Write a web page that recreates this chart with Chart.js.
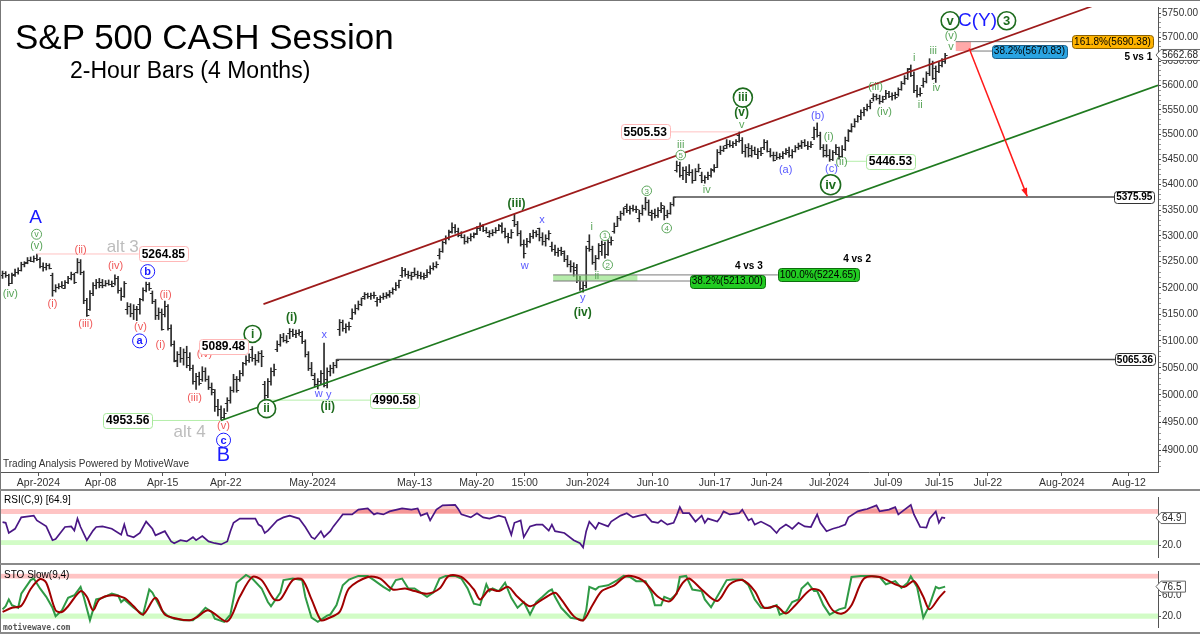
<!DOCTYPE html>
<html><head><meta charset="utf-8"><title>S&amp;P 500 CASH Session</title>
<script src="https://cdn.jsdelivr.net/npm/chart.js@4.4.1/dist/chart.umd.min.js"></script>
<style>
html,body{margin:0;padding:0;background:#fff;overflow:hidden}
#wrap{position:relative;width:1200px;height:634px;overflow:hidden;background:#fff;font-family:"Liberation Sans",Arial,sans-serif}
#wrap canvas{position:absolute;left:0}
.t{position:absolute;white-space:nowrap;color:#000}
.ln{position:absolute}
</style></head><body>
<div id="wrap">
 <canvas id="cMain" width="1200" height="490" style="top:0px;width:1200px;height:490px"></canvas>
 <canvas id="cRsi" width="1200" height="74" style="top:490px;width:1200px;height:74px"></canvas>
 <canvas id="cSto" width="1200" height="70" style="top:564px;width:1200px;height:70px"></canvas>
 <div class="t" style="left:15px;top:19px;font-size:35px;line-height:35px">S&amp;P 500 CASH Session</div>
 <div class="t" style="left:70px;top:59px;font-size:23px;line-height:23px">2-Hour Bars (4 Months)</div>
 <div class="t" style="left:3px;top:459px;font-size:10px;line-height:10px;color:#333">Trading Analysis Powered by MotiveWave</div>
 <div class="t" style="left:4px;top:495px;font-size:10px;line-height:10px">RSI(C,9) [64.9]</div>
 <div class="t" style="left:4px;top:570px;font-size:10px;line-height:10px">STO Slow(9,4)</div>
 <div class="t" style="left:3px;top:624px;font-size:8px;line-height:8px;font-weight:bold;color:#555;font-family:'DejaVu Sans Mono',monospace">motivewave.com</div>
 <div class="ln" style="left:0;top:0;width:1200px;height:1px;background:#777"></div>
 <div class="ln" style="left:0;top:0;width:1px;height:634px;background:#777"></div>
 <div class="ln" style="left:0;top:489px;width:1200px;height:2px;background:#8a8a8a"></div>
 <div class="ln" style="left:0;top:563px;width:1200px;height:2px;background:#8a8a8a"></div>
 <div class="ln" style="left:0;top:632px;width:1200px;height:2px;background:#8a8a8a"></div>
</div>
<script>
// ---------------- DATA ----------------
const opens = [
5224,5228,5224,5210,5226,5230,5234,5246,5250,5254,5252,5258,5256,5242,5240,5244,
5225,5196,5202,5204,5200,5212,5218,5226,5230,5250,5230,5176,5160,5190,5205,5212,
5212,5206,5210,5208,5210,5218,5195,5185,5160,5165,5152,5160,5170,5178,5195,5208,
5190,5175,5148,5155,5150,5165,5125,5095,5065,5075,5068,5080,5070,5050,5025,5035,
5030,5045,5030,5015,5005,4980,4975,4960,4985,4990,5010,5030,5030,5040,5058,5065,
5085,5068,5065,5078,5020,5000,5025,5045,5084,5095,5108,5102,5114,5118,5112,5115,
5110,5100,5075,5050,5030,5020,5025,5040,5030,5045,5050,5055,5122,5135,5125,5128,
5142,5155,5162,5170,5185,5188,5184,5186,5175,5178,5182,5185,5188,5192,5198,5205,
5225,5235,5226,5225,5230,5226,5224,5222,5225,5230,5238,5242,5263,5270,5288,5296,
5310,5318,5310,5302,5298,5290,5295,5300,5305,5315,5320,5312,5300,5305,5308,5312,
5320,5310,5300,5298,5330,5322,5305,5285,5285,5290,5300,5308,5315,5298,5290,5296,
5280,5275,5268,5272,5270,5255,5245,5242,5240,5215,5200,5205,5290,5275,5250,5258,
5270,5285,5265,5288,5310,5320,5335,5345,5358,5350,5355,5352,5335,5345,5355,5365,
5340,5345,5340,5350,5355,5340,5345,5362,5430,5440,5420,5430,5425,5425,5410,5428,
5420,5410,5415,5420,5430,5436,5465,5470,5480,5482,5480,5484,5499,5490,5468,5475,
5460,5470,5462,5468,5475,5485,5468,5460,5460,5455,5458,5464,5466,5460,5468,5475,
5480,5485,5480,5478,5495,5512,5500,5475,5470,5460,5452,5465,5462,5458,5472,5490,
5507,5518,5528,5537,5545,5552,5558,5575,5578,5574,5568,5578,5585,5578,5580,
5582,5592,5605,5616,5635,5622,5590,5582,5600,5610,5625,5645,5635,5630,5642,5650];
const highs = [
5232,5231,5226,5228,5236,5238,5249,5250,5258,5259,5261,5264.85,5258,5248,5247,5246,
5228,5206,5208,5212,5214,5222,5230,5228,5256,5254,5232,5180,5195,5210,5216,5218,
5216,5214,5215,5213,5225,5222,5200,5212,5172,5170,5168,5165,5180,5200,5211,5210,
5194,5178,5162,5160,5175,5168,5130,5100,5080,5088,5085,5090,5078,5055,5040,5042,
5052,5050,5035,5022,5010,4992,4980,4975,4995,5015,5038,5034,5045,5060,5072,5076,
5089.48,5075,5080,5082,5025,5030,5050,5057,5100,5112,5114,5110,5123,5122,5120,5121,
5118,5102,5080,5060,5040,5030,5045,5096,5050,5055,5060,5065.36,5140,5139,5132,5135,
5160,5168,5175,5181,5191,5190,5190,5192,5182,5185,5190,5191,5195,5200,5210,5215,
5239,5237,5232,5230,5238,5232,5230,5228,5235,5242,5248,5250,5275,5290,5300,5311,
5325,5322,5315,5308,5302,5298,5304,5306,5318,5325,5322,5316,5310,5312,5316,5322,
5325,5315,5305,5312,5341.88,5328,5310,5292,5295,5305,5311,5310,5315,5306,5302,5310,
5288,5282,5276,5278,5271,5262,5252,5248,5245,5222,5212,5280,5302,5280,5262,5285,
5290,5288,5292,5298,5325,5338,5348,5355,5362,5358,5360,5358,5350,5360,5375,5370,
5350,5352,5355,5365,5358,5350,5365,5375.95,5447,5445,5435,5436,5440,5430,5432,5441,
5425,5418,5425,5432,5440,5470,5477,5477,5490,5488,5486,5490,5505.53,5494,5480,5482,
5478,5475,5472,5474,5490,5488,5472,5465,5465,5462,5466,5472,5475,5470,5478,5483,
5488,5490,5486,5486,5515,5523.64,5505,5480,5480,5470,5468,5480,5475,5478,5495,5510,
5522,5532,5539,5550,5555,5562,5570,5583,5582,5580,5578,5590,5588,5585,5586,
5595,5608,5620,5635,5642,5628,5600,5595,5615,5628,5655,5650,5640,5648,5655,5666];
const lows = [
5218,5220,5204,5208,5222,5226,5232,5240,5246,5250,5249,5252,5238,5232,5234,5236,
5184,5192,5198,5200,5199,5208,5215,5208,5228,5225,5170,5146,5157,5185,5198,5200,
5200,5203,5205,5202,5205,5190,5176,5182,5150,5145,5140,5138,5150,5175,5192,5195,
5170,5140,5140,5120,5145,5120,5090,5061,5052,5060,5055,5050,5045,5020,5010,5018,
5025,5025,5010,5000,4970,4962,4953.56,4955,4970,4985,5005,5005,5025,5035,5055,5060,
5062,5055,5060,5052,4990.58,4995,5018,5035,5080,5090,5098,5096,5104,5108,5106,5110,
5095,5070,5045,5035,5015,5011,5020,5015,5013,5035,5040,5050,5110,5118,5115,5120,
5140,5150,5158,5166,5178,5180,5178,5180,5165,5172,5178,5180,5182,5188,5195,5200,
5220,5222,5218,5215,5222,5218,5217,5216,5220,5226,5234,5238,5255,5268,5284,5292,
5305,5305,5298,5296,5284,5286,5290,5296,5302,5310,5308,5305,5297,5300,5305,5310,
5305,5296,5286,5295,5318,5300,5280,5257,5278,5286,5295,5298,5290,5282,5280,5292,
5270,5262,5260,5262,5250,5240,5230,5222,5210,5195,5191.68,5200,5270,5245,5234,5255,
5262,5257,5262,5282,5305,5318,5330,5340,5345,5342,5348,5345,5327,5340,5350,5340,
5330,5335,5336,5345,5331,5335,5342,5358,5425,5415,5410,5404,5418,5403,5408,5425,
5404,5403,5410,5415,5425,5434,5460,5466,5472,5475,5474,5478,5485,5462,5455,5455,
5455,5460,5452,5458,5470,5465,5455,5447,5450,5451,5452,5460,5455,5453,5465,5470,
5472,5476,5470,5474,5490,5495,5470,5455,5455,5446.53,5448,5460,5451,5455,5468,5486,
5505,5515,5525,5530,5538,5548,5552,5568,5570,5562,5565,5572,5575,5570,5572,
5578,5590,5602,5612,5618,5585,5576,5578,5596,5605,5620,5612,5606,5626,5638,5645];
const closes = [
5228,5224,5210,5225,5230,5234,5246,5248,5254,5252,5258,5256,5242,5240,5244,5238,
5196,5202,5204,5205,5212,5218,5226,5211,5250,5230,5176,5148,5190,5205,5212,5205,
5206,5210,5208,5204,5218,5195,5185,5209,5165,5152,5160,5160,5178,5195,5208,5199,
5175,5148,5155,5123,5165,5125,5095,5062,5075,5068,5080,5055,5050,5025,5035,5022,
5045,5030,5015,5011,4980,4975,4960,4967,4990,5010,5030,5010,5040,5058,5065,5070,
5068,5065,5078,5071,5000,5025,5045,5048,5095,5108,5102,5100,5118,5112,5115,5116,
5100,5075,5050,5036,5020,5025,5040,5018,5045,5050,5055,5064,5135,5125,5128,5128,
5155,5162,5170,5180,5188,5184,5186,5187,5178,5182,5185,5187,5192,5198,5205,5214,
5235,5226,5225,5222,5226,5224,5222,5221,5230,5238,5242,5246,5270,5288,5296,5308,
5318,5310,5302,5297,5290,5295,5300,5303,5315,5320,5312,5308,5305,5308,5312,5321,
5310,5300,5298,5307,5322,5305,5285,5267,5290,5300,5308,5304,5298,5290,5296,5306,
5275,5268,5272,5266,5255,5245,5242,5235,5215,5200,5205,5277,5275,5250,5258,5283,
5285,5265,5288,5291,5320,5335,5345,5354,5350,5355,5352,5352,5345,5355,5365,5347,
5345,5340,5350,5360,5340,5345,5362,5375,5440,5420,5430,5421,5425,5410,5428,5433,
5410,5415,5420,5431,5436,5465,5470,5473,5482,5480,5484,5487,5490,5468,5475,5473,
5470,5462,5468,5464,5485,5468,5460,5450,5455,5458,5464,5469,5460,5468,5475,5477,
5485,5480,5478,5482,5512,5500,5475,5460,5460,5452,5465,5475,5458,5472,5490,5509,
5518,5528,5537,5545,5552,5558,5567,5578,5574,5568,5572,5585,5578,5580,5576,
5592,5605,5616,5633,5622,5590,5582,5584,5610,5625,5645,5615,5630,5642,5650,5662.68];

// RSI(C,9) (bar index, value)
const rsiBar = [0,1,2,4,6,10,11,14,16,17,20,22,23,24,25,27,29,30,32,35,38,39,40,42,44,46,48,49,52,54,55,57,59,61,62,64,66,68,70,72,73,74,76,79,81,82,83,84,85,88,90,92,95,97,99,100,102,103,105,106,108,109,112,114,117,119,120,122,124,128,131,133,134,136,137,139,141,145,146,147,150,152,154,156,159,161,163,164,166,167,169,171,173,175,176,177,180,183,185,186,187,188,190,191,194,195,198,200,202,204,206,208,210,211,213,215,216,217,218,220,222,224,225,226,229,230,231,233,236,237,239,240,241,243,246,248,249,251,252,253,255,257,259,261,262,264,266,268,270,271,274,276,277,280,281,284,286,287,289,291,292,294,296,297,299,300,301,302];
const rsiVal = [58,57,40,47,66,69,61,51,28,30,50,51,44,64,50,28,44,50,51,47,37,54,36,33,40,59,47,36,43,26,23,28,26,33,28,35,26,23,21,26,43,57,64,64,64,54,51,40,44,61,66,69,64,50,33,30,43,33,43,51,64,71,71,79,81,71,73,71,76,81,79,81,69,73,61,79,86,87,80,71,66,73,66,64,69,66,37,57,61,33,51,54,54,44,54,43,40,28,23,16,43,59,47,57,51,59,69,73,66,69,71,59,57,61,54,57,69,83,73,73,59,69,57,64,59,66,76,71,73,79,61,64,54,59,51,40,47,54,51,47,57,51,50,71,57,43,47,50,54,66,76,79,80,86,76,79,83,71,79,87,71,50,49,64,76,57,66,64.9];
// STO Slow(9,4): %K (green) and %D (red)
const stoKBar = [0,1,2,3,5,6,9,10,12,14,16,17,19,21,23,25,26,28,30,32,35,37,38,39,42,45,47,48,51,53,55,58,61,63,65,67,68,71,73,75,78,80,83,85,86,89,90,93,96,97,99,101,104,105,107,109,111,114,117,119,122,124,126,128,130,132,134,136,138,140,142,145,147,149,151,153,155,156,157,159,161,163,165,167,169,171,173,175,176,177,179,182,184,186,187,188,190,191,194,197,199,201,203,206,208,209,211,212,214,216,217,219,221,224,225,227,230,232,234,237,239,241,243,246,248,249,251,253,255,256,258,260,261,263,265,268,270,272,275,278,281,283,286,288,290,291,293,295,297,299,300,302];
const stoKVal = [33,39,52,41,36,63,89,92,73,57,36,20,31,55,60,76,57,12,52,55,63,60,47,52,36,23,71,65,31,20,15,12,12,23,36,28,15,9,23,84,99,92,73,47,39,65,89,92,89,57,17,9,21,23,41,79,90,97,97,89,76,69,89,92,73,73,65,57,65,92,97,97,92,73,44,41,81,68,73,68,84,55,36,47,23,47,57,68,71,57,36,17,15,12,31,76,71,76,79,89,97,95,87,87,63,41,41,57,52,63,95,97,71,68,52,37,68,89,90,90,79,52,36,36,41,23,28,47,52,73,84,68,68,41,23,33,36,95,97,97,95,81,87,74,84,96,76,17,41,76,73,76.5];
const stoDBar = [0,3,6,9,12,14,17,19,21,25,27,29,31,35,39,42,45,49,52,56,60,62,66,72,76,80,83,87,89,93,96,99,102,104,108,111,117,121,125,129,132,136,140,143,147,151,153,156,159,162,165,169,173,177,179,183,186,189,192,196,200,205,210,214,218,220,224,229,233,237,241,244,248,251,254,259,262,266,269,272,276,281,286,289,292,295,297,300,302];
const stoDVal = [28,36,40,72,91,84,31,28,39,68,57,31,52,60,55,39,23,55,23,15,12,17,31,10,57,95,89,52,52,89,90,52,12,15,28,73,95,92,71,73,68,63,73,97,95,71,52,71,68,76,57,39,52,65,52,20,12,41,68,79,97,89,57,49,84,92,71,49,81,89,68,36,39,25,41,71,68,31,25,41,92,95,81,76,87,57,33,55,68];

// axis tick labels (bar positions) and price ticks
const xTickBars = [11.5,31.4,51.3,71.5,99.3,132,151.9,167.3,187.5,208.3,228.2,244.8,264.8,283.7,300.1,315.7,339.4,360.9];
const xTickLabels = ['Apr-2024','Apr-08','Apr-15','Apr-22','May-2024','May-13','May-20','15:00','Jun-2024','Jun-10','Jun-17','Jun-24','Jul-2024','Jul-09','Jul-15','Jul-22','Aug-2024','Aug-12'];
const yMajorTicks = [4900,4950,5000,5050,5100,5150,5200,5250,5300,5350,5400,5450,5500,5550,5600,5650,5700,5750];
const yMinorStep = 10;
const rsiTicks = [20,60];
const stoTicks = [20,60];
const lastPrice = 5662.68, lastRsi = 64.9, lastSto = 76.5;

// ---------------- ANNOTATIONS (data coordinates: bar index, price) ----------------
const hLines = [
 [5264.85, 11, 43.6, '#ffc2c2', 1],
 [4953.56, 48, 70, '#b4eeaa', 1],
 [4990.58, 84.6, 118, '#b4eeaa', 1],
 [5505.53, 213.5, 236, '#ffc2c2', 1],
 [5446.53, 270, 276.6, '#b4eeaa', 1],
 [5375.95, 215, 356.7, '#4d4d4d', 1.5],
 [5065.36, 107, 356.7, '#4d4d4d', 1.5],
 [5224.65, 176.4, 248.4, '#7a7a7a', 1],
 [5213.00, 176.4, 220.3, '#7a7a7a', 1],
 [5690.38, 305.4, 343, '#7a7a7a', 1],
 [5670.83, 310.2, 317.5, '#7a7a7a', 1]
];
const trendLines = [
 [83.6, 5169, 370.2, 5815, '#9e1b1b', 1.7],
 [70, 4953.56, 370.2, 5600, '#1f7a1f', 1.7]
];
const zones = [
 [305.4, 310.3, 5670.83, 5690.38, 'rgba(255,140,140,0.75)'],
 [176.4, 203.4, 5213.00, 5224.65, 'rgba(120,220,100,0.55)']
];
const arrow = [309.7, 5676, 328.3, 5377, '#ff1a1a'];
const styles = {
 lg:{c:'#5aa55a', f:'11px'},
 dg:{c:'#1d6b1d', f:'bold 12px'},
 lb:{c:'#5a5aff', f:'11px'},
 lr:{c:'#f05a5a', f:'11px'},
 alt:{c:'#bdbdbd', f:'17px'},
 bk:{c:'#000', f:'bold 10px'},
 A:{c:'#1a1aff', f:'19px'},
 B:{c:'#1a1aff', f:'20px'}
};
const labels = [
 ['(v)',10.9,5280,'lg'],['(iv)',2.5,5188,'lg'],['iii',217.3,5479,'lg'],['iv',225.6,5390,'lg'],['v',236.8,5520,'lg'],
 ['i',188.8,5317,'lg'],['ii',190.4,5223,'lg'],['(i)',264.7,5495,'lg'],['(ii)',268.8,5445,'lg'],['(iii)',279.7,5597,'lg'],
 ['(iv)',282.5,5545,'lg'],['i',292.1,5656,'lg'],['ii',294,5561,'lg'],['iii',298.2,5672,'lg'],['iv',299.2,5595,'lg'],
 ['v',303.9,5680,'lg'],['(v)',303.9,5703,'lg'],
 ['(i)',92.6,5143,'dg'],['(ii)',104.2,4979,'dg'],['(iii)',164.7,5363,'dg'],['(iv)',185.9,5152,'dg'],['(v)',236.8,5545,'dg'],
 ['w',101.3,5002,'lb'],['y',104.5,5000,'lb'],['x',103.1,5111,'lb'],['w',167.3,5242,'lb'],['x',172.8,5330,'lb'],
 ['y',185.9,5180,'lb'],['(a)',250.9,5429,'lb'],['(b)',261.2,5538,'lb'],['(c)',265.6,5431,'lb'],
 ['(ii)',25,5273,'lr'],['(iv)',36.2,5242,'lr'],['(i)',16,5169,'lr'],['(iii)',26.6,5132,'lr'],['(v)',44.2,5126,'lr'],
 ['(ii)',52.2,5186,'lr'],['(i)',50.6,5093,'lr'],['(iii)',61.5,4995,'lr'],['(iv)',64.7,5075,'lr'],['(v)',70.8,4943,'lr'],
 ['alt 3',38.5,5277,'alt'],['alt 4',59.9,4932,'alt'],
 ['4 vs 3',239.1,5242,'bk'],['4 vs 2',273.8,5254,'bk'],['5 vs 1',363.9,5658,'bk'],
 ['A',10.6,5336,'A'],['B',70.8,4890,'B'],['C(Y)',312.4,5734,'A']
];
const circles = [ // text, bar, price, radius, color, font, lineWidth
 ['v',10.9,5303,5,'#5aa55a','9px',1],['1',193,5300,4.8,'#5aa55a','8px',1],['2',193.9,5244,4.8,'#5aa55a','8px',1],
 ['3',206.4,5388,4.8,'#5aa55a','8px',1],['4',212.8,5315,4.8,'#5aa55a','8px',1],['5',217.3,5459,4.8,'#5aa55a','8px',1],
 ['i',80.1,5113,8.5,'#1d6b1d','bold 12px',1.6],['ii',84.6,4975,9,'#1d6b1d','bold 12px',1.6],
 ['iii',237.2,5575,9.5,'#1d6b1d','bold 12px',1.6],['iv',265.3,5400,10,'#1d6b1d','bold 13px',1.6],
 ['v',303.6,5734,9,'#1d6b1d','bold 13px',1.6],['3',321.7,5734,9,'#1d6b1d','bold 13px',1.6],
 ['a',43.9,5100,7,'#1a1aff','bold 11px',1],['b',46.5,5231,7,'#1a1aff','bold 11px',1],['c',70.8,4918,7,'#1a1aff','bold 11px',1]
];
const boxes = [ // text, bar, price, anchor, fill, stroke, font, height, pad
 ['5264.85',43.6,5264.85,'left','#fff','#ffb8b8','bold 12px',15,3],
 ['5089.48',70.8,5089.48,'center','#fff','#ffb8b8','bold 12px',15,3],
 ['4953.56',40.1,4953.56,'center','#fff','#a8e89c','bold 12px',15,3],
 ['4990.58',125.5,4990.58,'center','#fff','#a8e89c','bold 12px',15,3],
 ['5505.53',205.9,5505.53,'center','#fff','#ffb8b8','bold 12px',15,3],
 ['5446.53',284.5,5446.53,'center','#fff','#a8e89c','bold 12px',15,3],
 ['5375.95',362.6,5375.95,'center','#fff','#333','bold 10px',12,2],
 ['5065.36',362.8,5065.36,'center','#fff','#333','bold 10px',12,2],
 ['161.8%(5690.38)',355.6,5690.38,'center','#ffb300','#8a6000','10px',13,2],
 ['38.2%(5670.83)',329,5670.83,'center','#2aa4e2','#1a5f8a','10px',13,2],
 ['38.2%(5213.00)',232.2,5213.00,'center','#22cc22','#0d6d0d','10px',13,2],
 ['100.0%(5224.65)',261.3,5224.65,'center','#22cc22','#0d6d0d','10px',13,2]
];

// ---------------- HELPERS ----------------
const FAM = '"Liberation Sans", Arial, sans-serif';
Chart.defaults.font.family = FAM;
const X_MIN = -0.5, X_MAX = 370.2;

function rr(ctx, x, y, w, h, r){
  ctx.beginPath();
  ctx.moveTo(x+r,y); ctx.lineTo(x+w-r,y); ctx.quadraticCurveTo(x+w,y,x+w,y+r);
  ctx.lineTo(x+w,y+h-r); ctx.quadraticCurveTo(x+w,y+h,x+w-r,y+h);
  ctx.lineTo(x+r,y+h); ctx.quadraticCurveTo(x,y+h,x,y+h-r);
  ctx.lineTo(x,y+r); ctx.quadraticCurveTo(x,y,x+r,y); ctx.closePath();
}
function pointer(ctx, xl, cy, text, h){
  ctx.font = '10px ' + FAM;
  const w = ctx.measureText(text).width + 5;
  ctx.beginPath();
  ctx.moveTo(xl, cy); ctx.lineTo(xl+5, cy-h/2); ctx.lineTo(xl+5+w, cy-h/2);
  ctx.lineTo(xl+5+w, cy+h/2); ctx.lineTo(xl+5, cy+h/2); ctx.closePath();
  ctx.fillStyle='#fff'; ctx.fill(); ctx.strokeStyle='#666'; ctx.lineWidth=1; ctx.stroke();
  ctx.fillStyle='#222'; ctx.textAlign='left'; ctx.textBaseline='middle';
  ctx.fillText(text, xl+6, cy+0.5);
}

const ohlcTicks = {
  id:'ohlcTicks',
  afterDatasetsDraw(chart){
    const {ctx, scales:{x, y}} = chart;
    ctx.save(); ctx.strokeStyle='#2a2a2a'; ctx.lineWidth=1; ctx.beginPath();
    for (let k=0;k<closes.length;k++){
      const px = x.getPixelForValue(k);
      const yo = Math.round(y.getPixelForValue(opens[k]))+0.5;
      const yc = Math.round(y.getPixelForValue(closes[k]))+0.5;
      ctx.moveTo(px-2.5,yo); ctx.lineTo(px,yo);
      ctx.moveTo(px,yc); ctx.lineTo(px+2.5,yc);
    }
    ctx.stroke(); ctx.restore();
  }
};

const annotations = {
  id:'annotations',
  afterDatasetsDraw(chart){
    const {ctx, chartArea:a, scales:{x, y}} = chart;
    const X = v => x.getPixelForValue(v), Y = v => y.getPixelForValue(v);
    ctx.save();
    ctx.beginPath(); ctx.rect(a.left, a.top, a.right-a.left, a.bottom-a.top); ctx.clip();
    zones.forEach(z => { ctx.fillStyle=z[4]; const y1=Y(z[3]), y2=Y(z[2]); ctx.fillRect(X(z[0]), y1, X(z[1])-X(z[0]), y2-y1); });
    hLines.forEach(l => { ctx.strokeStyle=l[3]; ctx.lineWidth=l[4]; ctx.beginPath(); const yy=Y(l[0]); ctx.moveTo(X(l[1]),yy); ctx.lineTo(X(l[2]),yy); ctx.stroke(); });
    trendLines.forEach(t => { ctx.strokeStyle=t[4]; ctx.lineWidth=t[5]; ctx.beginPath(); ctx.moveTo(X(t[0]),Y(t[1])); ctx.lineTo(X(t[2]),Y(t[3])); ctx.stroke(); });
    const ax1=X(arrow[0]), ay1=Y(arrow[1]), ax2=X(arrow[2]), ay2=Y(arrow[3]);
    ctx.strokeStyle=arrow[4]; ctx.fillStyle=arrow[4]; ctx.lineWidth=1.5;
    ctx.beginPath(); ctx.moveTo(ax1,ay1); ctx.lineTo(ax2,ay2); ctx.stroke();
    const ang=Math.atan2(ay2-ay1, ax2-ax1), hl=9;
    ctx.beginPath(); ctx.moveTo(ax2,ay2);
    ctx.lineTo(ax2-hl*Math.cos(ang-0.35), ay2-hl*Math.sin(ang-0.35));
    ctx.lineTo(ax2-hl*Math.cos(ang+0.35), ay2-hl*Math.sin(ang+0.35));
    ctx.closePath(); ctx.fill();
    ctx.textAlign='center'; ctx.textBaseline='middle';
    labels.forEach(l => { const s=styles[l[3]]; ctx.font=s.f+' '+FAM; ctx.fillStyle=s.c; ctx.fillText(l[0], X(l[1]), Y(l[2])); });
    circles.forEach(c => {
      const cx=X(c[1]), cy=Y(c[2]);
      ctx.beginPath(); ctx.arc(cx,cy,c[3],0,Math.PI*2); ctx.fillStyle='#fff'; ctx.fill();
      ctx.lineWidth=c[6]; ctx.strokeStyle=c[4]; ctx.stroke();
      ctx.fillStyle=c[4]; ctx.font=c[5]+' '+FAM; ctx.fillText(c[0], cx, cy+0.5);
    });
    boxes.forEach(b => {
      ctx.font=b[6]+' '+FAM;
      const w=ctx.measureText(b[0]).width+b[8]*2, h=b[7];
      const cx=X(b[1]), cy=Y(b[2]);
      const left = b[3]==='left' ? cx : cx-w/2;
      rr(ctx, Math.round(left)+0.5, Math.round(cy-h/2)+0.5, Math.round(w), h, 3);
      ctx.fillStyle=b[4]; ctx.fill(); ctx.lineWidth=1; ctx.strokeStyle=b[5]; ctx.stroke();
      ctx.fillStyle='#000'; ctx.textAlign='center'; ctx.textBaseline='middle';
      ctx.fillText(b[0], left+w/2, cy+0.5);
    });
    ctx.restore();
  },
  afterDraw(chart){
    const {ctx, chartArea:a, scales:{y}} = chart;
    ctx.save(); pointer(ctx, a.right-2, y.getPixelForValue(lastPrice), lastPrice.toFixed(2), 11); ctx.restore();
  }
};

const bandsPlugin = {
  id:'bands',
  beforeDatasetsDraw(chart, args, opts){
    const {ctx, chartArea:a, scales:{y}} = chart;
    ctx.save();
    (opts.bands||[]).forEach(b => { const y1=y.getPixelForValue(b[1]), y2=y.getPixelForValue(b[0]); ctx.fillStyle=b[2]; ctx.fillRect(a.left, y1, a.right-a.left, y2-y1); });
    ctx.restore();
  },
  afterDraw(chart, args, opts){
    if (opts.last == null) return;
    const {ctx, chartArea:a, scales:{y}} = chart;
    ctx.save(); pointer(ctx, a.right-2, y.getPixelForValue(opts.last), opts.last.toFixed(1), 11); ctx.restore();
  }
};

// ---------------- MAIN CHART ----------------
const yTickValues = [];
for (let v = yMajorTicks[0]-30; v <= yMajorTicks[yMajorTicks.length-1]+10; v += yMinorStep) yTickValues.push(v);

new Chart(document.getElementById('cMain'), {
  type:'bar',
  data:{datasets:[{
    data: lows.map((l,k)=>({x:k, y:[l, highs[k]]})),
    backgroundColor:'#2a2a2a', borderWidth:0, barThickness:1, grouped:false
  }]},
  options:{
    responsive:false, animation:false, events:[],
    layout:{padding:{left:1, top:1, right:0, bottom:0}},
    plugins:{legend:{display:false}, tooltip:{enabled:false}},
    scales:{
      x:{type:'linear', min:X_MIN, max:X_MAX, bounds:'data', offset:false, position:'bottom',
        afterBuildTicks:s=>{ s.ticks = xTickBars.map(v=>({value:v})); },
        afterFit:s=>{ s.height = 18; },
        ticks:{autoSkip:false, maxRotation:0, minRotation:0, padding:1, color:'#333', font:{size:10.5}, callback:(v,i)=>xTickLabels[i]},
        grid:{drawOnChartArea:false, drawTicks:true, tickLength:4, color:'#555', offset:false},
        border:{display:true, color:'#555', width:1}},
      y:{type:'logarithmic', position:'right', min:4861, max:5763, bounds:'data',
        afterBuildTicks:s=>{ s.ticks = yTickValues.map(v=>({value:v})); },
        afterFit:s=>{ s.width = 42; },
        ticks:{autoSkip:false, padding:1, color:'#333', font:{size:10}, callback:v => (yMajorTicks.includes(Math.round(v)) ? Number(v).toFixed(2) : '')},
        grid:{drawOnChartArea:false, tickLength:3, color:c => (c.tick && yMajorTicks.includes(Math.round(c.tick.value))) ? '#444' : '#999'},
        border:{display:true, color:'#555', width:1}}
    }
  },
  plugins:[ohlcTicks, annotations]
});

// ---------------- LOWER PANELS ----------------
function panelOptions(ymin, ymax, ticksArr, padTop, padBottom, bands, last){
  return {
    responsive:false, animation:false, events:[],
    layout:{padding:{left:1, top:padTop, right:0, bottom:padBottom}},
    plugins:{legend:{display:false}, tooltip:{enabled:false}, bands:{bands:bands, last:last}},
    scales:{
      x:{type:'linear', min:X_MIN, max:X_MAX, bounds:'data', display:false},
      y:{type:'linear', position:'right', min:ymin, max:ymax, bounds:'data',
        afterBuildTicks:s=>{ s.ticks = ticksArr.map(v=>({value:v})); },
        afterFit:s=>{ s.width = 42; },
        ticks:{autoSkip:false, padding:1, color:'#333', font:{size:10}, callback:v=>Number(v).toFixed(1)},
        grid:{drawOnChartArea:false, tickLength:3, color:'#555'},
        border:{display:true, color:'#555', width:1}}
    }
  };
}

new Chart(document.getElementById('cRsi'), {
  type:'line',
  data:{datasets:[{
    data: rsiBar.map((b,k)=>({x:b, y:rsiVal[k]})),
    borderColor:'#4a1785', borderWidth:1.7, pointRadius:0, tension:0,
    fill:{target:{value:72}, above:'rgba(225,70,70,0.35)', below:'rgba(0,0,0,0)'}
  }]},
  options: panelOptions(0, 100, rsiTicks, 3, 1, [[72,80,'#ffc4c4'],[20,28,'#d2fcc6']], lastRsi),
  plugins:[bandsPlugin]
});

new Chart(document.getElementById('cSto'), {
  type:'line',
  data:{datasets:[
    {data: stoDBar.map((b,k)=>({x:b, y:stoDVal[k]})), borderColor:'#a00000', borderWidth:2, pointRadius:0, tension:0.3, fill:false},
    {data: stoKBar.map((b,k)=>({x:b, y:stoKVal[k]})), borderColor:'#2f9a45', borderWidth:2, pointRadius:0, tension:0, fill:false}
  ]},
  options: panelOptions(-0.8, 106.4, stoTicks, 2, 1, [[92,101,'#ffc4c4'],[15,25,'#d2fcc6']], lastSto),
  plugins:[bandsPlugin]
});
</script>
</body></html>
